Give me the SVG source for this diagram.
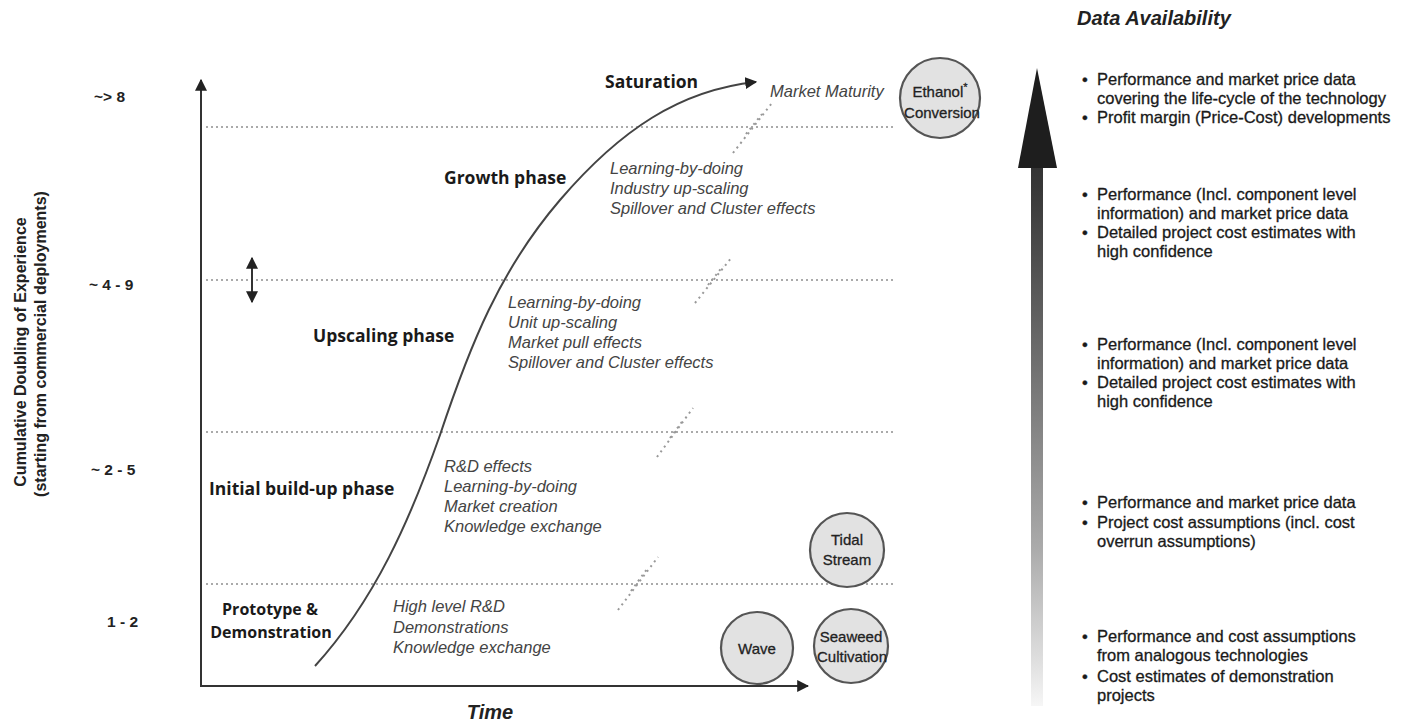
<svg xmlns="http://www.w3.org/2000/svg" width="1402" height="723" viewBox="0 0 1402 723">
  <style>
    .axis { stroke: #333; stroke-width: 2; fill: none; }
    .grid { stroke: #aaa; stroke-width: 2; stroke-dasharray: 2 3; fill: none; }
    .brk { stroke: #999; stroke-width: 2; stroke-dasharray: 2 4; fill: none; }
    .curve { stroke: #444; stroke-width: 2; fill: none; }
    .phase { font-family: "Open Sans", "Liberation Sans", sans-serif; font-weight: 700; font-size: 17.5px; fill: #1a1a1a; }
    .phase-sm { font-size: 16px; }
    .eff { font-family: "Liberation Sans", Arial, sans-serif; font-style: italic; font-size: 16.5px; fill: #444; }
    .ylab { font-family: "Liberation Sans", Arial, sans-serif; font-weight: 700; font-size: 15.5px; fill: #222; }
    .title { font-family: "Liberation Sans", Arial, sans-serif; font-weight: 700; font-size: 16px; fill: #222; }
    .bullet text { font-family: "Liberation Sans", Arial, sans-serif; font-size: 16.5px; fill: #1a1a1a; stroke: #1a1a1a; stroke-width: 0.3; }
    .tech circle { fill: #e2e2e2; stroke: #555; stroke-width: 2.2; }
    .tech text { font-family: "Liberation Sans", Arial, sans-serif; font-size: 15px; fill: #222; stroke: #222; stroke-width: 0.3; text-anchor: middle; }
  </style>
  <defs>
    <marker id="arr" viewBox="0 0 10 10" refX="9" refY="5" markerWidth="6" markerHeight="6" orient="auto-start-reverse" markerUnits="strokeWidth">
      <path d="M0,0 L10,5 L0,10 z" fill="#222"/>
    </marker>
    <linearGradient id="availGrad" gradientUnits="userSpaceOnUse" x1="0" y1="68" x2="0" y2="706">
      <stop offset="0" stop-color="#1c1c1c"/>
      <stop offset="0.2" stop-color="#3a3a3a"/>
      <stop offset="0.5" stop-color="#777"/>
      <stop offset="0.75" stop-color="#aaa"/>
      <stop offset="0.92" stop-color="#dcdcdc"/>
      <stop offset="1" stop-color="#f6f6f6"/>
    </linearGradient>
  </defs>

  <rect width="1402" height="723" fill="#fff"/>

  <!-- level guide lines -->
  <g id="guides">
    <line class="grid" x1="206" y1="127" x2="895" y2="127"/>
    <line class="grid" x1="206" y1="280" x2="895" y2="280"/>
    <line class="grid" x1="206" y1="432" x2="895" y2="432"/>
    <line class="grid" x1="206" y1="584" x2="895" y2="584"/>
  </g>

  <!-- break marks across the guide lines -->
  <g id="breaks">
    <line class="brk" x1="733" y1="153" x2="772" y2="103"/>
    <line class="brk" x1="746" y1="134" x2="762" y2="114"/>
    <line class="brk" x1="695" y1="303" x2="732" y2="257"/>
    <line class="brk" x1="708" y1="285" x2="723" y2="266"/>
    <line class="brk" x1="657" y1="457" x2="693" y2="408"/>
    <line class="brk" x1="670" y1="438" x2="684" y2="419"/>
    <line class="brk" x1="618" y1="610" x2="658" y2="557"/>
    <line class="brk" x1="631" y1="591" x2="647" y2="569"/>
  </g>

  <!-- axes -->
  <g id="axes">
    <line class="axis" x1="201" y1="687" x2="201" y2="80" marker-end="url(#arr)"/>
    <line class="axis" x1="200" y1="686" x2="808" y2="686" marker-end="url(#arr)"/>
    <line class="axis" x1="252" y1="258" x2="252" y2="302" marker-start="url(#arr)" marker-end="url(#arr)"/>
  </g>

  <!-- axis titles and level values -->
  <g id="axis-labels">
    <text class="title" transform="translate(26,352) rotate(-90)" text-anchor="middle">Cumulative Doubling of Experience</text>
    <text class="title" transform="translate(46,344) rotate(-90)" text-anchor="middle">(starting from commercial deployments)</text>
    <text class="ylab" x="94" y="102">~&gt; 8</text>
    <text class="ylab" x="89" y="290">~ 4 - 9</text>
    <text class="ylab" x="91" y="475">~ 2 - 5</text>
    <text class="ylab" x="107" y="627">1 - 2</text>
    <text x="490" y="719" text-anchor="middle" font-family="Liberation Sans, Arial, sans-serif" font-weight="700" font-style="italic" font-size="20" fill="#222">Time</text>
  </g>

  <!-- S-curve of technology development -->
  <g id="connectors">
    <path class="curve" d="M315,666 C375,600 410,520 440,435 C470,345 500,270 560,200 C620,130 680,90 756,82" marker-end="url(#arr)"/>
  </g>

  <!-- phases -->
  <g id="phase-saturation">
    <text class="phase" x="605" y="88">Saturation</text>
    <text class="eff" x="770" y="97">Market Maturity</text>
  </g>
  <g id="phase-growth">
    <text class="phase" x="444" y="184">Growth phase</text>
    <text class="eff" x="610" y="174">Learning-by-doing</text>
    <text class="eff" x="610" y="194">Industry up-scaling</text>
    <text class="eff" x="610" y="214">Spillover and Cluster effects</text>
  </g>
  <g id="phase-upscaling">
    <text class="phase" x="313" y="342">Upscaling phase</text>
    <text class="eff" x="508" y="308">Learning-by-doing</text>
    <text class="eff" x="508" y="328">Unit up-scaling</text>
    <text class="eff" x="508" y="348">Market pull effects</text>
    <text class="eff" x="508" y="368">Spillover and Cluster effects</text>
  </g>
  <g id="phase-initial">
    <text class="phase" x="209" y="495">Initial build-up phase</text>
    <text class="eff" x="444" y="472">R&amp;D effects</text>
    <text class="eff" x="444" y="492">Learning-by-doing</text>
    <text class="eff" x="444" y="512">Market creation</text>
    <text class="eff" x="444" y="532">Knowledge exchange</text>
  </g>
  <g id="phase-prototype">
    <text class="phase phase-sm" x="270" y="615" text-anchor="middle">Prototype &amp;</text>
    <text class="phase phase-sm" x="271" y="638" text-anchor="middle">Demonstration</text>
    <text class="eff" x="393" y="612">High level R&amp;D</text>
    <text class="eff" x="393" y="633">Demonstrations</text>
    <text class="eff" x="393" y="653">Knowledge exchange</text>
  </g>

  <!-- technologies -->
  <g id="tech-ethanol" class="tech">
    <circle cx="940" cy="98" r="40"/>
    <text x="940" y="97">Ethanol<tspan font-size="11" dy="-6">*</tspan></text>
    <text x="942" y="118">Conversion</text>
  </g>
  <g id="tech-tidal" class="tech">
    <circle cx="847" cy="550" r="37"/>
    <text x="847" y="545">Tidal</text>
    <text x="847" y="565">Stream</text>
  </g>
  <g id="tech-wave" class="tech">
    <circle cx="757" cy="648" r="36"/>
    <text x="757" y="654">Wave</text>
  </g>
  <g id="tech-seaweed" class="tech">
    <circle cx="851" cy="646" r="37"/>
    <text x="851" y="642">Seaweed</text>
    <text x="852" y="662">Cultivation</text>
  </g>

  <!-- data availability scale -->
  <g id="data-availability">
    <text x="1077" y="25" font-family="Liberation Sans, Arial, sans-serif" font-weight="700" font-style="italic" font-size="20" fill="#222">Data Availability</text>
    <rect x="1031" y="166" width="12" height="540" fill="url(#availGrad)"/>
    <polygon points="1037,68 1057,168 1018,168" fill="#1e1e1e"/>
  </g>

  <g id="data-level-5" class="bullet">
    <text x="1082" y="85">•</text><text x="1097" y="85">Performance and market price data</text>
    <text x="1097" y="104">covering the life-cycle of the technology</text>
    <text x="1082" y="123">•</text><text x="1097" y="123">Profit margin (Price-Cost) developments</text>
  </g>
  <g id="data-level-4" class="bullet">
    <text x="1082" y="200">•</text><text x="1097" y="200">Performance (Incl. component level</text>
    <text x="1097" y="219">information) and market price data</text>
    <text x="1082" y="238">•</text><text x="1097" y="238">Detailed project cost estimates with</text>
    <text x="1097" y="257">high confidence</text>
  </g>
  <g id="data-level-3" class="bullet">
    <text x="1082" y="350">•</text><text x="1097" y="350">Performance (Incl. component level</text>
    <text x="1097" y="369">information) and market price data</text>
    <text x="1082" y="388">•</text><text x="1097" y="388">Detailed project cost estimates with</text>
    <text x="1097" y="407">high confidence</text>
  </g>
  <g id="data-level-2" class="bullet">
    <text x="1082" y="508">•</text><text x="1097" y="508">Performance and market price data</text>
    <text x="1082" y="528">•</text><text x="1097" y="528">Project cost assumptions (incl. cost</text>
    <text x="1097" y="547">overrun assumptions)</text>
  </g>
  <g id="data-level-1" class="bullet">
    <text x="1082" y="642">•</text><text x="1097" y="642">Performance and cost assumptions</text>
    <text x="1097" y="661">from analogous technologies</text>
    <text x="1082" y="682">•</text><text x="1097" y="682">Cost estimates of demonstration</text>
    <text x="1097" y="701">projects</text>
  </g>
</svg>
